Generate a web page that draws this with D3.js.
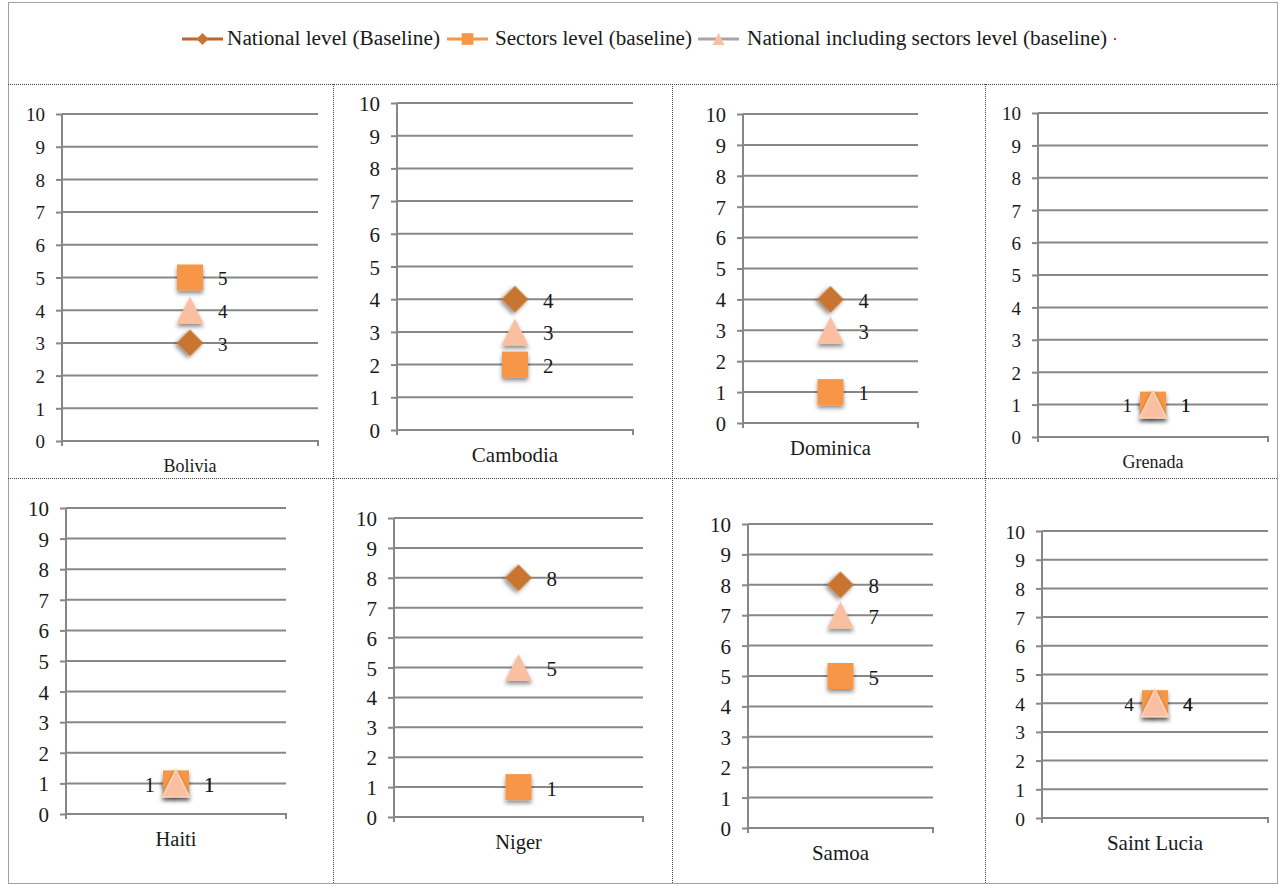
<!DOCTYPE html>
<html>
<head>
<meta charset="utf-8">
<script src="https://cdn.jsdelivr.net/npm/d3@7"></script>
<style>
  html, body { margin: 0; padding: 0; background: #fff; }
  svg { display: block; }
  svg text { font-family: "Liberation Serif", "Times New Roman", serif; }
</style>
</head>
<body>
<svg id="chart" width="1280" height="884"></svg>
<script>
// ---- data ----
const countries = ["Bolivia", "Cambodia", "Dominica", "Grenada", "Haiti", "Niger", "Samoa", "Saint Lucia"];
const nationalLevel = [3, 4, 4, 1, 1, 8, 8, 4];
const sectorsLevel = [5, 2, 1, 1, 1, 1, 5, 4];
const nationalInclSectors = [4, 3, 3, 1, 1, 5, 7, 4];
const seriesNames = ["National level (Baseline)", "Sectors level (baseline)", "National including sectors level (baseline)"];
const yTicks = [0, 1, 2, 3, 4, 5, 6, 7, 8, 9, 10];

// ---- panel frames (plot area edges, font sizes) ----
const frames = [
  { left: 62,   right: 318,  top: 114, bottom: 441, tick: 19, cat: 18 },
  { left: 397,  right: 633,  top: 103, bottom: 430, tick: 21, cat: 21 },
  { left: 743,  right: 918,  top: 114, bottom: 423, tick: 20.5, cat: 20.5 },
  { left: 1038, right: 1268, top: 113, bottom: 437, tick: 19, cat: 18 },
  { left: 66,   right: 286,  top: 508, bottom: 814, tick: 21, cat: 20.5 },
  { left: 394,  right: 643,  top: 518, bottom: 817, tick: 21, cat: 20.5 },
  { left: 748,  right: 933,  top: 524, bottom: 828, tick: 21, cat: 21 },
  { left: 1042, right: 1268, top: 531, bottom: 818, tick: 19.5, cat: 21 }
];

const svg = d3.select("#chart");
const gridColor = "#878787";
const textColor = "#1a1a1a";
const serif = "'Liberation Serif', 'Times New Roman', serif";

// marker shapes
const isoTriangle = {
  draw(ctx, size) {
    const s = Math.sqrt(size);
    ctx.moveTo(0, -s / 2);
    ctx.lineTo(s / 2, s / 2);
    ctx.lineTo(-s / 2, s / 2);
    ctx.closePath();
  }
};
const series = [
  { name: seriesNames[0], values: nationalLevel, fill: "#C87533", type: d3.symbolSquare, size: 360, rotate: 45, legendLine: "#C0652A" },
  { name: seriesNames[1], values: sectorsLevel, fill: "#F79646", type: d3.symbolSquare, size: 676, rotate: 0, legendLine: "#F79646" },
  { name: seriesNames[2], values: nationalInclSectors, fill: "#F9BFA0", type: isoTriangle, size: 729, rotate: 0, legendLine: "#A6A6A6" }
];

// soft shadow under markers
const defs = svg.append("defs");
const f = defs.append("filter").attr("id", "shadow").attr("x", "-50%").attr("y", "-50%").attr("width", "200%").attr("height", "200%");
f.append("feDropShadow").attr("dx", 0).attr("dy", 3).attr("stdDeviation", 2)
  .attr("flood-color", "#000").attr("flood-opacity", 0.45);

// ---- dotted frame ----
const borders = svg.append("g").attr("fill", "none").attr("stroke", "#444")
  .attr("stroke-width", 1).attr("stroke-dasharray", "1,1");
borders.append("rect").attr("x", 8.5).attr("y", 2.5).attr("width", 1269).attr("height", 881);
[84.5, 478.5].forEach(y => borders.append("line").attr("x1", 8).attr("x2", 1278).attr("y1", y).attr("y2", y));
[333.5, 672.5, 985.5].forEach(x => borders.append("line").attr("x1", x).attr("x2", x).attr("y1", 84).attr("y2", 884));

// ---- legend ----
const legendItems = [
  { s: series[0], x0: 182, tx: 227, tw: 213 },
  { s: series[1], x0: 447, tx: 495, tw: 197 },
  { s: series[2], x0: 698, tx: 747, tw: 360 }
];
const legend = svg.append("g").attr("class", "legend");
const ly = 39;
legendItems.forEach(it => {
  const g = legend.append("g");
  g.append("line").attr("x1", it.x0).attr("x2", it.x0 + 41).attr("y1", ly).attr("y2", ly)
    .attr("stroke", it.s.legendLine).attr("stroke-width", 3);
  g.append("path")
    .attr("d", d3.symbol().type(it.s.type).size(it.s.size * 0.2)())
    .attr("transform", `translate(${it.x0 + 20.5},${ly}) rotate(${it.s.rotate})`)
    .attr("fill", it.s.fill);
  g.append("text").attr("x", it.tx).attr("y", ly + 6)
    .style("font-family", serif).style("font-size", "20px").attr("fill", textColor)
    .attr("textLength", it.tw).attr("lengthAdjust", "spacingAndGlyphs")
    .text(it.s.name);
});
legend.append("rect").attr("x", 1114).attr("y", 38).attr("width", 2).attr("height", 2).attr("fill", "#d33");

// ---- panels ----
countries.forEach((country, i) => {
  const fr = frames[i];
  const g = svg.append("g").attr("class", "panel");

  const x = d3.scalePoint().domain([country]).range([fr.left, fr.right]).padding(0.5);
  const y = d3.scaleLinear().domain([0, 10]).range([fr.bottom, fr.top]);

  // horizontal gridlines
  g.append("g").selectAll("line").data(yTicks).join("line")
    .attr("x1", fr.left).attr("x2", fr.right)
    .attr("y1", d => y(d)).attr("y2", d => y(d))
    .attr("stroke", gridColor).attr("stroke-width", 2);

  // y axis
  const yAxis = g.append("g").attr("transform", `translate(${fr.left},0)`)
    .call(d3.axisLeft(y).tickValues(yTicks).tickSize(6).tickPadding(11).tickFormat(d3.format("d")))
    .attr("font-family", null).attr("font-size", null);
  yAxis.select(".domain").attr("stroke", gridColor).attr("stroke-width", 2)
    .attr("d", `M0,${fr.top}V${fr.bottom + 5}`);
  yAxis.selectAll(".tick line").attr("stroke", gridColor).attr("stroke-width", 2);
  yAxis.selectAll(".tick text")
    .style("font-family", serif).style("font-size", fr.tick + "px")
    .attr("fill", textColor).attr("dy", "0.36em");

  // x axis (category)
  const xAxis = g.append("g").attr("transform", `translate(0,${fr.bottom})`);
  xAxis.append("path").attr("d", `M${fr.left},0H${fr.right}V5`).attr("fill", "none")
    .attr("stroke", gridColor).attr("stroke-width", 2);
  xAxis.append("text").attr("x", x(country)).attr("y", 25 + fr.cat * 0.33)
    .attr("text-anchor", "middle")
    .style("font-family", serif).style("font-size", fr.cat + "px").attr("fill", textColor)
    .text(country);

  const allSame = nationalLevel[i] === sectorsLevel[i] && sectorsLevel[i] === nationalInclSectors[i];

  // markers
  series.forEach(s => {
    const v = s.values[i];
    g.append("path")
      .attr("d", d3.symbol().type(s.type).size(s.size)())
      .attr("transform", `translate(${x(country)},${y(v)}) rotate(${s.rotate})`)
      .attr("fill", s.fill)
      .attr("stroke", s === series[2] && allSame ? "#FAD3BD" : "none")
      .attr("stroke-width", 1.5)
      .attr("filter", "url(#shadow)");
  });

  // value labels
  series.forEach((s, k) => {
    const v = s.values[i];
    const onLeft = allSame && k === 0;
    g.append("text")
      .attr("x", onLeft ? x(country) - 21 : x(country) + 28)
      .attr("y", y(v) + fr.tick * 0.36 + 1)
      .attr("text-anchor", onLeft ? "end" : "start")
      .style("font-family", serif).style("font-size", fr.tick + "px").attr("fill", textColor)
      .text(d3.format("d")(v));
  });
});
</script>
</body>
</html>
